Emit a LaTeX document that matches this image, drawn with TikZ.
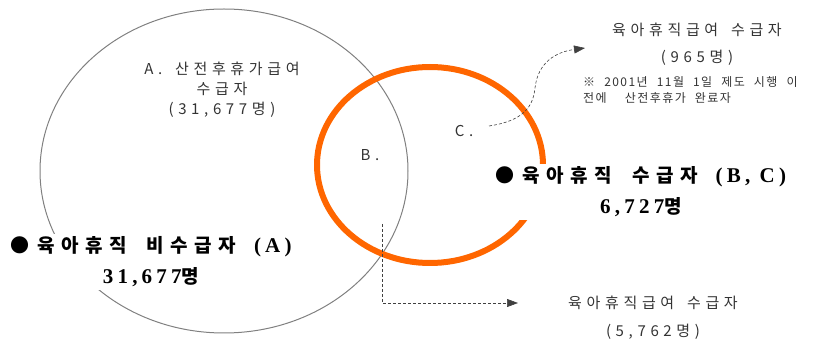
\documentclass[tikz,border=0pt]{standalone}
\usepackage{fontspec}
\setmainfont{Noto Sans CJK KR}
\newfontfamily\krsp{Noto Sans CJK KR}[LetterSpace=31,WordSpace=1.6]
\newfontfamily\krnote{Noto Sans CJK KR}[LetterSpace=12,WordSpace=2.2]
\newfontfamily\krbold{Noto Sans CJK KR}[LetterSpace=34,BoldFeatures={LetterSpace=34}]
\newfontfamily\serb{Liberation Serif}[LetterSpace=20,BoldFeatures={LetterSpace=20}]
\newcommand\serlat[1]{{\serb\bfseries\fontsize{21}{31}\selectfont #1}}
\usetikzlibrary{arrows.meta}
\definecolor{vorange}{HTML}{FF6600}
\begin{document}
\begin{tikzpicture}[x=1pt,y=-1pt,
  graytxt/.style={text=black!80, font=\krsp\fontsize{15}{20}\selectfont, inner sep=0pt, align=center},
  notetxt/.style={text=black!80, font=\krnote\fontsize{12}{16}\selectfont, inner sep=0pt, align=left, anchor=west},
  boldlbl/.style={font=\krbold\bfseries\fontsize{19}{31}\selectfont, fill=white, align=center, inner sep=3pt},
  dasharrow/.style={densely dashed, black!75, line width=0.6pt, -{Triangle[length=11pt,width=8pt]}},
  setA/.style={draw=black!50, line width=1pt},
  setB/.style={draw=vorange, line width=6pt},
]
\useasboundingbox (0,0) rectangle (815,347);
% sets
\draw[setA] (224,171) ellipse [x radius=184, y radius=162];
\draw[setB] (430,165) ellipse [x radius=113, y radius=98];
% inner labels
\node[graytxt] (a) at (222,90) {A. 산전후휴가급여\\수급자\\(31,677명)};
\node[graytxt] (b) at (370,155) {B.};
\node[graytxt] (c) at (464,131) {C.};
% big labels
\node[boldlbl] (na) at (151,262) {●\hspace{8pt}육아휴직\hspace{20pt}비수급자\hspace{18pt}\serlat{(A)}\\\serlat{31,677}명};
\node[boldlbl] (nbc) at (641,192) {●\hspace{8pt}육아휴직\hspace{20pt}수급자\hspace{18pt}\serlat{(B, C)}\\\serlat{6,727}명};
% top right
\node[graytxt] (t1) at (697,30) {육아휴직급여 수급자};
\node[graytxt] (t2) at (697,58) {(965명)};
\node[notetxt] (t3) at (583,90) {※ 2001년 11월 1일 제도 시행 이\\전에~ 산전후휴가 완료자};
% bottom right
\node[graytxt] (u1) at (653,303) {육아휴직급여 수급자};
\node[graytxt] (u2) at (653,332) {(5,762명)};
% connectors
\coordinate (cs) at (489,126);
\coordinate (ce) at (585,48);
\draw[dasharrow] (cs) .. controls (522,121) and (533,108) .. (535,88)
  .. controls (538,62) and (556,52) .. (ce);
\coordinate (bs) at (382,224);
\coordinate (be) at (518,303);
\draw[dasharrow] (bs) |- (be);
\end{tikzpicture}
\end{document}
